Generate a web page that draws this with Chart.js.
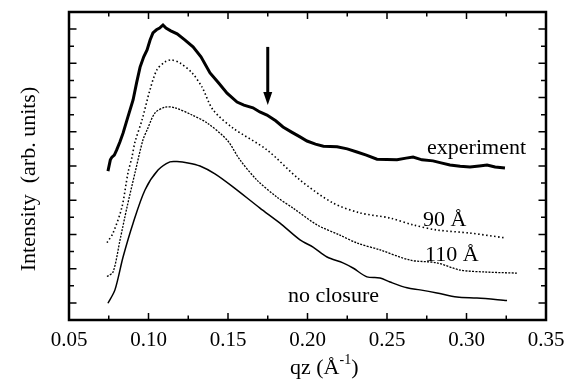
<!DOCTYPE html>
<html>
<head>
<meta charset="utf-8">
<script src="https://cdn.jsdelivr.net/npm/chart.js@4/dist/chart.umd.min.js"></script>
<style>
  html, body { margin: 0; padding: 0; background: #fff; }
  #wrap { width: 573px; height: 379px; }
</style>
</head>
<body>
<div id="wrap"><canvas id="myChart" width="573" height="379"></canvas></div>
<script>
// values (qz in 1/Å, intensity in arbitrary units)
let expX = [0.0745, 0.0760, 0.0770, 0.0785, 0.0800, 0.0820, 0.0840, 0.0870, 0.0903, 0.0925, 0.0947, 0.0970, 0.0991, 0.1010, 0.1028, 0.1050, 0.1070, 0.1091, 0.1110, 0.1140, 0.1180, 0.1230, 0.1280, 0.1330, 0.1387, 0.1440, 0.1494, 0.1557, 0.1600, 0.1657, 0.1700, 0.1745, 0.1800, 0.1846, 0.1900, 0.1953, 0.1997, 0.2050, 0.2100, 0.2186, 0.2250, 0.2311, 0.2370, 0.2437, 0.2500, 0.2563, 0.2620, 0.2664, 0.2720, 0.2789, 0.2840, 0.2896, 0.2960, 0.3022, 0.3080, 0.3129, 0.3180, 0.3242]
let expY = [4.35, 4.68, 4.76, 4.82, 4.97, 5.20, 5.46, 5.93, 6.43, 6.93, 7.39, 7.69, 7.89, 8.18, 8.39, 8.48, 8.53, 8.62, 8.53, 8.45, 8.36, 8.18, 7.98, 7.69, 7.22, 6.93, 6.63, 6.37, 6.28, 6.20, 6.08, 5.99, 5.82, 5.64, 5.49, 5.35, 5.23, 5.14, 5.08, 5.06, 5.00, 4.91, 4.82, 4.70, 4.69, 4.68, 4.73, 4.76, 4.68, 4.65, 4.59, 4.53, 4.49, 4.47, 4.50, 4.53, 4.47, 4.44]

let a90X = [0.0739, 0.0777, 0.0833, 0.0871, 0.0896, 0.0915, 0.0959, 0.1009, 0.1053, 0.1104, 0.1142, 0.1198, 0.1274, 0.1336, 0.1406, 0.1531, 0.1745, 0.1953, 0.2160, 0.2330, 0.2519, 0.2664, 0.2814, 0.3022, 0.3242]
let a90Y = [2.26, 2.54, 3.30, 4.30, 4.76, 5.20, 5.84, 6.72, 7.31, 7.54, 7.60, 7.51, 7.22, 6.81, 6.14, 5.61, 4.97, 4.09, 3.42, 3.13, 2.98, 2.78, 2.63, 2.54, 2.40]

let a110X = [0.0739, 0.0777, 0.0821, 0.0865, 0.0915, 0.0965, 0.0991, 0.1041, 0.1104, 0.1167, 0.1274, 0.1368, 0.1494, 0.1575, 0.1682, 0.1808, 0.1909, 0.2060, 0.2204, 0.2311, 0.2456, 0.2645, 0.2814, 0.2959, 0.3129, 0.3318]
let a110Y = [1.27, 1.40, 2.34, 3.30, 4.30, 5.26, 5.55, 6.05, 6.22, 6.20, 5.99, 5.76, 5.26, 4.68, 4.09, 3.59, 3.27, 2.78, 2.48, 2.25, 2.05, 1.75, 1.67, 1.46, 1.40, 1.37]

let noX = [0.0745, 0.0789, 0.0840, 0.0903, 0.0978, 0.1060, 0.1135, 0.1179, 0.1248, 0.1324, 0.1418, 0.1531, 0.1701, 0.1827, 0.1953, 0.2035, 0.2123, 0.2223, 0.2286, 0.2374, 0.2456, 0.2519, 0.2626, 0.2708, 0.2814, 0.2940, 0.3066, 0.3255]
let noY = [0.49, 0.88, 1.84, 2.83, 3.80, 4.38, 4.62, 4.63, 4.59, 4.50, 4.27, 3.89, 3.27, 2.83, 2.34, 2.13, 1.84, 1.67, 1.52, 1.26, 1.23, 1.11, 0.94, 0.88, 0.79, 0.67, 0.64, 0.57]

let curveLabels = ['experiment', '90 Å', '110 Å', 'no closure']

const toPoints = (xs, ys) => xs.map((x, i) => ({ x: x, y: ys[i] }))

const serif = '"Liberation Serif", "Times New Roman", serif'

// frame, inward ticks, arrow, labels and axis titles
const decorPlugin = {
    id: 'decor',
    afterDraw(chart) {
        const ctx = chart.ctx
        const xs = chart.scales.x
        const ys = chart.scales.y
        const a = chart.chartArea
        ctx.save()
        ctx.strokeStyle = '#000'
        ctx.fillStyle = '#000'

        ctx.lineWidth = 1.5
        for (let k = 0; k <= 12; k++) {
            let v = 0.05 + k * 0.025
            let px = xs.getPixelForValue(v)
            let len = k % 2 === 0 ? 7 : 4.5
            ctx.beginPath()
            ctx.moveTo(px, a.bottom); ctx.lineTo(px, a.bottom - len)
            ctx.moveTo(px, a.top); ctx.lineTo(px, a.top + len)
            ctx.stroke()
        }
        for (let k = 1; k <= 17; k++) {
            let v = k * 0.5
            let py = ys.getPixelForValue(v)
            let len = k % 2 === 1 ? 7.5 : 5
            ctx.beginPath()
            ctx.moveTo(a.left, py); ctx.lineTo(a.left + len, py)
            ctx.moveTo(a.right, py); ctx.lineTo(a.right - len, py)
            ctx.stroke()
        }

        ctx.lineWidth = 2.5
        ctx.strokeRect(a.left, a.top, a.right - a.left, a.bottom - a.top)

        // arrow
        let ax = xs.getPixelForValue(0.175)
        let aTop = ys.getPixelForValue(7.98)
        let aTip = ys.getPixelForValue(6.28)
        ctx.lineWidth = 3
        ctx.beginPath()
        ctx.moveTo(ax, aTop); ctx.lineTo(ax, aTip - 8)
        ctx.stroke()
        ctx.beginPath()
        ctx.moveTo(ax - 4.5, aTip - 13)
        ctx.lineTo(ax + 4.5, aTip - 13)
        ctx.lineTo(ax, aTip)
        ctx.closePath()
        ctx.fill()

        // curve labels
        ctx.font = '22px ' + serif
        ctx.textBaseline = 'alphabetic'
        ctx.textAlign = 'left'
        ctx.fillText(curveLabels[0], xs.getPixelForValue(0.2752), ys.getPixelForValue(4.85))
        ctx.fillText(curveLabels[1], xs.getPixelForValue(0.2726), ys.getPixelForValue(2.75))
        ctx.fillText(curveLabels[2], xs.getPixelForValue(0.2739), ys.getPixelForValue(1.72))
        ctx.fillText(curveLabels[3], xs.getPixelForValue(0.1877), ys.getPixelForValue(0.53))

        // x title with superscript
        let tx = 290, ty = 374
        ctx.fillText('qz (Å', tx, ty)
        tx += ctx.measureText('qz (Å').width
        ctx.font = '14px ' + serif
        ctx.fillText('-1', tx, ty - 10)
        tx += ctx.measureText('-1').width
        ctx.font = '22px ' + serif
        ctx.fillText(')', tx, ty)

        // y title
        ctx.translate(35, 179)
        ctx.rotate(-Math.PI / 2)
        ctx.textAlign = 'center'
        ctx.fillText('Intensity  (arb. units)', 0, 0)
        ctx.restore()
    }
}

new Chart(document.getElementById('myChart'), {
    type: 'line',
    data: {
        datasets: [
            { label: curveLabels[0], data: toPoints(expX, expY), borderColor: '#000', borderWidth: 3, pointRadius: 0, tension: 0 },
            { label: curveLabels[1], data: toPoints(a90X, a90Y), borderColor: '#000', borderWidth: 1.6, borderDash: [1.5, 2.5], pointRadius: 0, tension: 0.3 },
            { label: curveLabels[2], data: toPoints(a110X, a110Y), borderColor: '#000', borderWidth: 1.3, borderDash: [2, 1.3], pointRadius: 0, tension: 0.3 },
            { label: curveLabels[3], data: toPoints(noX, noY), borderColor: '#000', borderWidth: 1.5, pointRadius: 0, tension: 0.3 }
        ]
    },
    options: {
        responsive: false,
        animation: false,
        layout: { padding: { top: 12, right: 27, left: 0, bottom: 0 } },
        plugins: { legend: { display: false }, tooltip: { enabled: false } },
        scales: {
            x: {
                type: 'linear',
                min: 0.05,
                max: 0.35,
                afterFit: (s) => { s.height = 59 },
                grid: { display: false, drawTicks: false },
                border: { display: false },
                ticks: {
                    stepSize: 0.05,
                    padding: 8,
                    color: '#000',
                    font: { family: serif, size: 21 },
                    callback: (v) => v.toFixed(2)
                }
            },
            y: {
                min: 0,
                max: 9,
                afterFit: (s) => { s.width = 69 },
                grid: { display: false, drawTicks: false },
                border: { display: false },
                ticks: { display: false }
            }
        }
    },
    plugins: [decorPlugin]
})
</script>
</body>
</html>
